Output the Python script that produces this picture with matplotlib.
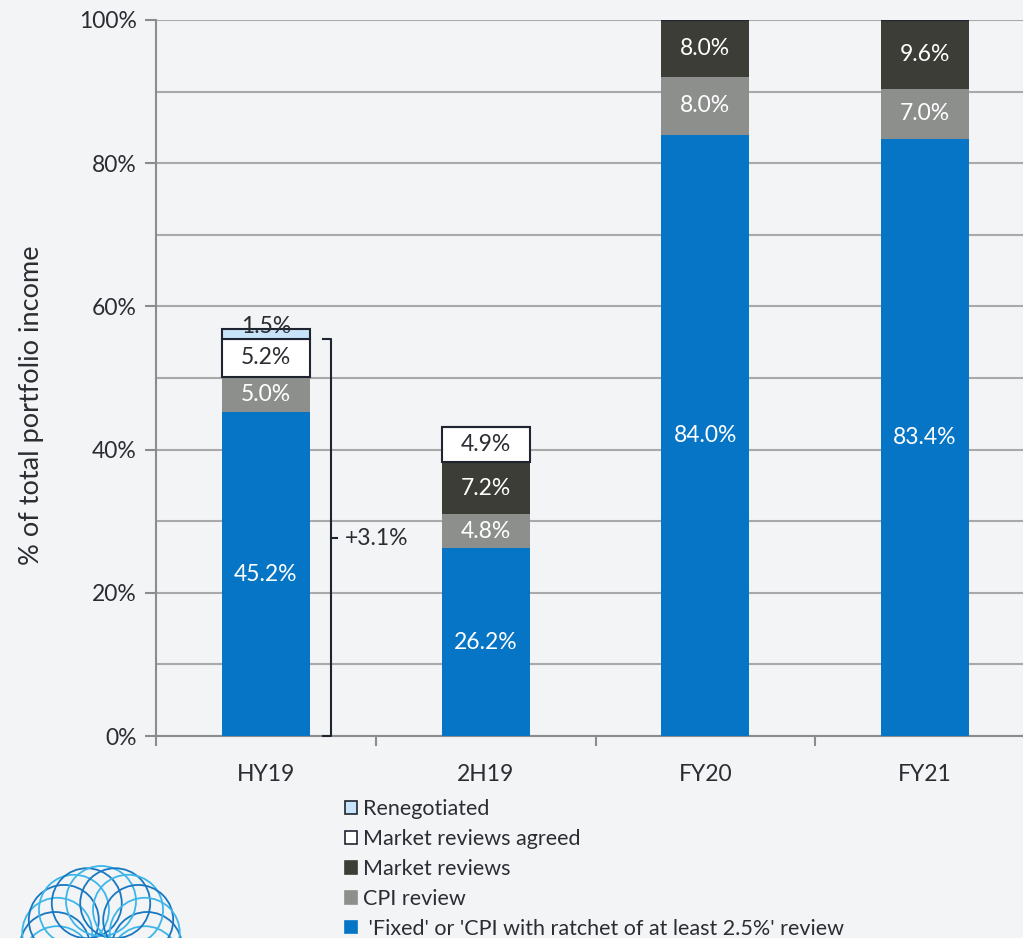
import numpy as np
import matplotlib.pyplot as plt
from matplotlib.patches import Patch, Circle

plt.rcParams['font.family'] = ['Lato', 'DejaVu Sans']

categories = ['HY19', '2H19', 'FY20', 'FY21']
fixed = [45.2, 26.2, 84.0, 83.4]
cpi = [5.0, 4.8, 8.0, 7.0]
market = [0.0, 7.2, 8.0, 9.6]
agreed = [5.2, 4.9, 0.0, 0.0]
renegotiated = [1.5, 0.0, 0.0, 0.0]
bracket_label = '+3.1%'

series = [
    ("'Fixed' or 'CPI with ratchet of at least 2.5%' review", fixed, '#0675c6', 'none', 'white'),
    ('CPI review', cpi, '#8d8f8d', 'none', 'white'),
    ('Market reviews', market, '#3d3d37', 'none', 'white'),
    ('Market reviews agreed', agreed, 'white', '#1f2530', '#2b2d33'),
    ('Renegotiated', renegotiated, '#c8e4f8', '#1f2530', '#2b2d33'),
]

fs = 16.5

fig = plt.figure(figsize=(10.23, 9.38), dpi=100)
fig.patch.set_facecolor('#f3f4f6')
ax = fig.add_axes([156 / 1023, 202 / 938, 879 / 1023, 716 / 938])
ax.set_facecolor('none')

x = np.arange(len(categories))
bottom = np.zeros(len(categories))
for name, vals, fc, ec, tc in series:
    vals = np.array(vals)
    ax.bar(x, vals, 0.4, bottom=bottom, color=fc, edgecolor=ec,
           linewidth=1.5 if ec != 'none' else 0, zorder=3)
    for i, v in enumerate(vals):
        if v > 0:
            yy = bottom[i] + v / 2
            if name == 'Renegotiated':
                yy += 1.0
            ax.text(x[i], yy, f'{v:.1f}%', ha='center', va='center',
                    color=tc, fontsize=fs, zorder=4)
    bottom += vals

# bracket next to HY19
bx = 0.295
btop = fixed[0] + cpi[0] + agreed[0]
ax.plot([bx - 0.035, bx, bx, bx - 0.035], [btop, btop, 0, 0],
        color='#1f2530', lw=1.5, zorder=4, clip_on=False)
ax.plot([bx, bx + 0.03], [27.6, 27.6], color='#1f2530', lw=1.5, zorder=4)
ax.text(bx + 0.065, 27.6, bracket_label, ha='left', va='center',
        fontsize=fs, color='#2b2d33')

ax.set_xlim(-0.5, 3.5)
ax.set_ylim(0, 100)
ax.set_yticks(np.arange(0, 101, 20))
ax.set_yticklabels([f'{v}%' for v in range(0, 101, 20)])
ax.set_yticks(np.arange(10, 100, 20), minor=True)
ax.grid(axis='y', which='both', color='#a9a9a9', lw=1.5, zorder=0)
ax.set_xticks(x)
ax.set_xticklabels(categories)
ax.set_xticks(np.arange(-0.5, 3.6, 1), minor=True)
ax.tick_params(axis='x', which='major', length=0, pad=20, labelsize=fs, labelcolor='#2b2d33')
ax.tick_params(axis='x', which='minor', length=7, width=1.5, color='#8c8c8c')
ax.tick_params(axis='y', which='major', length=8, width=1.5, color='#8c8c8c',
               labelsize=fs, labelcolor='#2b2d33', pad=6)
ax.tick_params(axis='y', which='minor', length=0)
for s in ['top', 'right']:
    ax.spines[s].set_visible(False)
for s in ['left', 'bottom']:
    ax.spines[s].set_color('#8c8c8c')
    ax.spines[s].set_linewidth(1.5)
ax.set_ylabel('% of total portfolio income', fontsize=19.5, color='#2b2d33')
ax.yaxis.set_label_coords(-0.127, 0.462)

handles = [Patch(facecolor=fc, edgecolor=('#1f2530' if ec != 'none' else fc), lw=1.2)
           for _, _, fc, ec, _ in series[::-1]]
labels = [name for name, *_ in series[::-1]]
labels[-1] = ' ' + labels[-1]
fig.legend(handles, labels, loc='upper left', bbox_to_anchor=(345 / 1023, 1 - 799 / 938),
           frameon=False, fontsize=15.5, handlelength=0.55, handleheight=0.55,
           handletextpad=0.3, labelspacing=0.46, borderpad=0, borderaxespad=0,
           labelcolor='#2b2d33')

# logo ring in the corner
lax = fig.add_axes([0, 0, 1, 1], zorder=-1)
lax.set_xlim(0, 1023)
lax.set_ylim(938, 0)
lax.axis('off')
cx, cy = 101, 947
for k in range(20):
    a = 2 * np.pi * k / 20
    col = '#3db6ea' if k % 2 else '#1977c0'
    lax.add_patch(Circle((cx + 46 * np.cos(a), cy + 46 * np.sin(a)), 35,
                         fill=False, ec=col, lw=1.3))

fig.savefig('out.png', dpi=100, facecolor=fig.get_facecolor())
